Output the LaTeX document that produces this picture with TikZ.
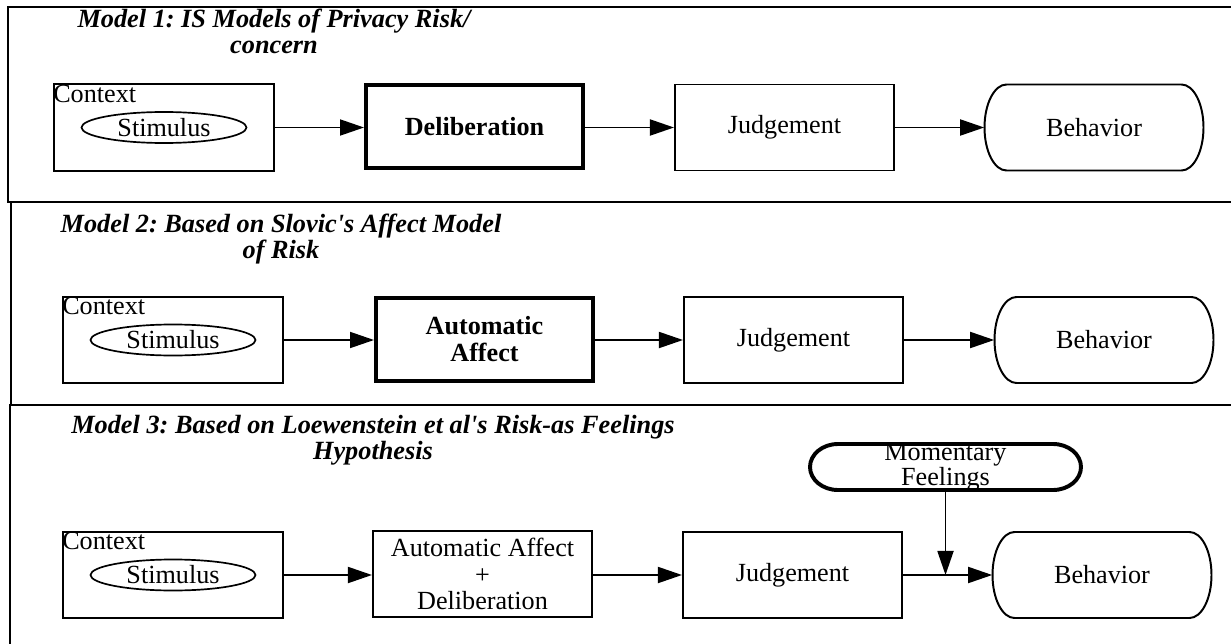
\documentclass[tikz,border=0pt]{standalone}
\usepackage{fontspec}
\setmainfont{Liberation Serif}
\usetikzlibrary{arrows.meta, shapes.geometric}
\frenchspacing

\tikzset{
  every node/.style={font=\fontsize{18.6}{19}\selectfont},
  title/.style={font=\fontsize{18.7}{18.5}\selectfont\bfseries\itshape, align=center, inner sep=0pt},
  frame/.style={line width=1.5pt},
  ctxbox/.style={draw, line width=1.4pt, minimum width=5.5cm, minimum height=2.16cm, inner sep=0pt},
  ctxlabel/.style={anchor=north west, inner xsep=0pt, inner ysep=1pt},
  stim/.style={draw, ellipse, line width=1.2pt, minimum width=4.125cm, minimum height=0.775cm, inner sep=0pt},
  procbox/.style={draw, line width=1.4pt, minimum width=5.475cm, minimum height=2.15cm, align=center, inner sep=0pt},
  keybox/.style={procbox, line width=2.8pt, minimum width=5.425cm, minimum height=2.075cm,
    font=\fontsize{18.6}{19.2}\selectfont\bfseries},
  outbox/.style={minimum width=5.475cm, minimum height=2.15cm, inner sep=0pt},
  feelbox/.style={minimum width=6.775cm, minimum height=1.15cm, align=center, inner sep=0pt,
    font=\fontsize{18.6}{14.6}\selectfont},
  flow/.style={line width=1.3pt, -{Triangle[length=0.6cm, width=0.4cm]}}
}

\begin{document}
\begin{tikzpicture}[x=0.025cm,y=-0.025cm]
  \useasboundingbox (0,0) rectangle (1231,644);

  % panel frames
  \draw[frame] (1231,7) -- (8,7) -- (8,202) -- (1231,202);
  \draw[frame] (11,202) -- (11,405);
  \draw[frame] (1231,405) -- (10,405) -- (10,644);

  % titles
  \node[title] (t1) at (274,31) {Model 1: IS Models of Privacy Risk/\\concern};
  \node[title] (t2) at (281,239) {Model 2: Based on Slovic\textquotesingle s Affect Model\\of Risk};
  \node[title] (t3) at (373,440)
    {Model 3: Based on Loewenstein et al\textquotesingle s Risk-as Feelings\\Hypothesis};

  % boxes common to all three models
  \foreach \n/\cx/\jx/\bx/\y in {1/164/784.5/1094/127.5, 2/173/793.5/1104/340, 3/173/792.5/1102/575}
  {
    \node[ctxbox] (ctx\n) at (\cx,\y) {};
    \node[ctxlabel] (lab\n) at (ctx\n.north west) {Context};
    \node[stim] (stim\n) at (\cx,\y) {Stimulus};
    \node[procbox] (jud\n) at (\jx,\y) {Judgement};
    \node[outbox] (beh\n) at (\bx,\y) {Behavior};
  }

  % middle steps
  \node[keybox] (del1) at (474.5,126.5) {Deliberation};
  \node[keybox] (aff2) at (484.5,339.5) {Automatic\\Affect};
  \node[procbox, font=\fontsize{18.6}{18.9}\selectfont] (mix3) at (482.5,574)
    {Automatic Affect\\+\\Deliberation};
  \node[feelbox] (mom3) at (945.5,467) {Momentary\\Feelings};

  % rounded outlines with elliptic ends (half width/half height/end radius in px)
  \foreach \b/\w/\h/\rx/\lw in {beh1/109.5/43/22/1.4pt, beh2/109.5/43/22/1.4pt,
                                beh3/109.5/43/22/1.4pt, mom3/135.5/23/28/2.8pt}
    \draw[line width=\lw, shift={(\b.center)}] (-\w+\rx,-\h) -- (\w-\rx,-\h)
      arc[start angle=-90, end angle=90, x radius=\rx, y radius=\h]
      -- (-\w+\rx,\h)
      arc[start angle=90, end angle=270, x radius=\rx, y radius=\h] -- cycle;

  % connectors
  \foreach \n/\m in {1/del1, 2/aff2, 3/mix3}
  {
    \draw[flow] (ctx\n.east) -- (ctx\n.east -| \m.west);
    \draw[flow] (\m.east |- jud\n) -- (jud\n.west);
    \draw[flow] (jud\n.east) -- (jud\n.east -| beh\n.west);
  }
  \draw[flow] (mom3.south) -- (mom3.south |- jud3.east);
\end{tikzpicture}
\end{document}
